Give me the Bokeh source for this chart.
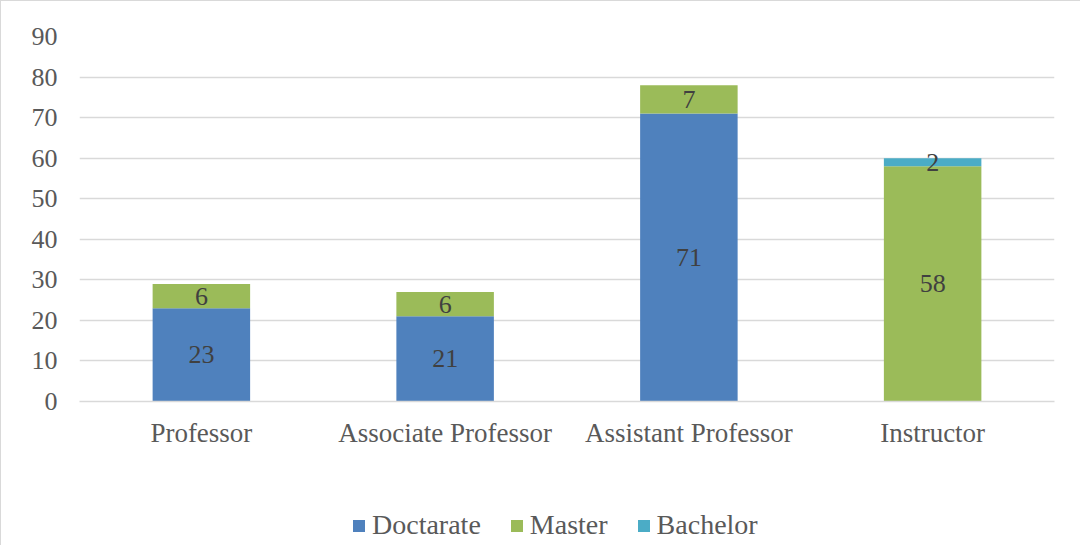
from bokeh.plotting import figure
from bokeh.layouts import column
from bokeh.models import ColumnDataSource, FactorRange, Legend, LegendItem, FixedTicker, Range1d
from bokeh.core.properties import value
from bokeh.embed import file_html
from bokeh.resources import INLINE

categories = ["Professor", "Associate Professor", "Assistant Professor", "Instructor"]
doctarate = [23, 21, 71, 0]
master = [6, 6, 7, 58]
bachelor = [0, 0, 0, 2]
series = ["Doctarate", "Master", "Bachelor"]
colors = ["#4F81BD", "#9BBB59", "#4BACC6"]
y_ticks = [0, 10, 20, 30, 40, 50, 60, 70, 80, 90]

FONT = "Liberation Serif"
W = 1079

src = ColumnDataSource(dict(cat=categories, Doctarate=doctarate, Master=master, Bachelor=bachelor))

p = figure(x_range=FactorRange(*categories), y_range=(0, 90), width=W, height=504,
           output_backend="svg", toolbar_location=None,
           min_border_left=78, min_border_right=26, min_border_top=35, min_border_bottom=104)
p.x_range.range_padding = 0

p.vbar_stack(series, x="cat", width=0.4, source=src, color=colors, line_color=None)

# data labels at segment middles
lx, ly, lt = [], [], []
for i, c in enumerate(categories):
    base = 0
    for vals in (doctarate, master, bachelor):
        v = vals[i]
        if v > 0:
            lx.append(c); ly.append(base + v / 2); lt.append(str(v))
        base += v
lsrc = ColumnDataSource(dict(x=lx, y=ly, t=lt))
p.text(x="x", y="y", text="t", source=lsrc, text_align="center", text_baseline="middle",
       text_font=value(FONT), text_font_size="26px", text_color="#404040")

p.yaxis.ticker = FixedTicker(ticks=y_ticks)
p.yaxis.axis_line_color = None
p.yaxis.major_tick_line_color = None
p.yaxis.minor_tick_line_color = None
p.yaxis.major_tick_out = 0
p.yaxis.major_label_text_font = FONT
p.yaxis.major_label_text_font_size = "26px"
p.yaxis.major_label_text_color = "#595959"
p.yaxis.major_label_standoff = 22

p.xaxis.axis_line_color = "#D9D9D9"
p.xaxis.axis_line_width = 1.5
p.xaxis.major_tick_line_color = None
p.xaxis.minor_tick_line_color = None
p.xaxis.major_tick_out = 0
p.xaxis.major_label_text_font = FONT
p.xaxis.major_label_text_font_size = "27px"
p.xaxis.major_label_text_color = "#595959"
p.xaxis.major_label_standoff = 16

p.xgrid.grid_line_color = None
p.ygrid.grid_line_color = "#D9D9D9"
p.ygrid.grid_line_width = 1.5
p.ygrid.ticker = FixedTicker(ticks=y_ticks)
p.outline_line_color = None

# legend strip below the chart (its frame is aligned with the chart's frame)
lg = figure(width=W, height=40, output_backend="svg", toolbar_location=None,
            x_range=Range1d(0, 1), y_range=Range1d(0, 1),
            x_axis_location=None, y_axis_location=None,
            min_border=0, min_border_left=0, min_border_right=0,
            min_border_top=0, min_border_bottom=0)
lg.grid.visible = False
lg.outline_line_color = None
# one far off-view point per series so the legend has something to draw its swatch from
lr = [lg.vbar(x=[-100], top=[-100], bottom=[-101], width=0.1, color=c, line_color=None)
      for c in colors]
legend = Legend(items=[LegendItem(label=s, renderers=[r]) for s, r in zip(series, lr)],
                orientation="horizontal", location=(272, 4),
                glyph_width=15, glyph_height=15, label_standoff=6, spacing=28,
                padding=0, margin=0, border_line_color=None, background_fill_alpha=0,
                label_text_font=FONT, label_text_font_size="28px", label_text_color="#595959")
lg.add_layout(legend, "center")

layout = column(p, lg, spacing=0)
layout.styles = {"border-top": "1px solid #D9D9D9", "border-left": "1px solid #D9D9D9"}

open("out.html", "w").write(file_html(layout, INLINE))
